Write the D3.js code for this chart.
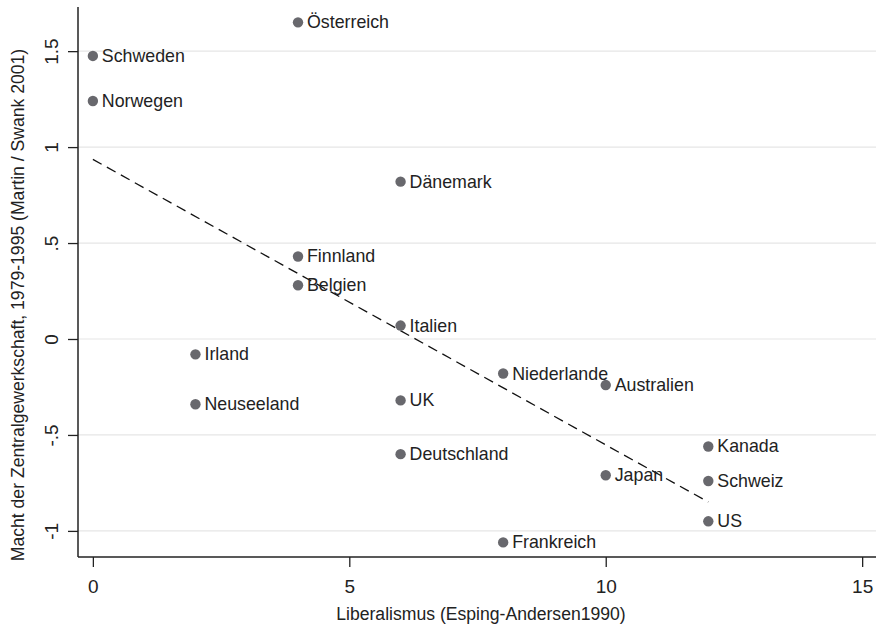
<!DOCTYPE html>
<html><head><meta charset="utf-8">
<script src="https://cdn.jsdelivr.net/npm/d3@7"></script>
<style>body{margin:0;background:#fff}svg{display:block}text{font-family:"Liberation Sans",Arial,sans-serif;fill:#222}</style>
</head><body><svg id="c" width="885" height="628"></svg>
<script>
const countries = ["Österreich","Schweden","Norwegen","Dänemark","Finnland","Belgien","Italien","Irland","Neuseeland","UK","Niederlande","Australien","Deutschland","Japan","Kanada","Schweiz","US","Frankreich"];
const liberalism = [4,0,0,6,4,4,6,2,2,6,8,10,6,10,12,12,12,8];
const unionPower = [1.65,1.475,1.24,0.82,0.43,0.28,0.07,-0.08,-0.34,-0.32,-0.18,-0.24,-0.60,-0.71,-0.56,-0.74,-0.95,-1.06];
const xTicks = [0,5,10,15];
const yTicks = [1.5,1,0.5,0,-0.5,-1];
const yTickLabels = ["1.5","1",".5","0","-.5","-1"];
const xTitle = "Liberalismus (Esping-Andersen1990)";
const yTitle = "Macht der Zentralgewerkschaft, 1979-1995 (Martin / Swank 2001)";

const svg = d3.select("#c");
const L=78, R=876, T=7, B=557;
const x = d3.scaleLinear().domain([-0.29,15.27]).range([L,R]);
const y = d3.scaleLinear().domain([-1.136,1.73]).range([B,T]);

// grid
svg.append("g").selectAll("line").data(yTicks).join("line")
  .attr("x1",L).attr("x2",R).attr("y1",d=>y(d)).attr("y2",d=>y(d))
  .attr("stroke","#e6e6e6").attr("stroke-width",1.2);

// axes
const yAxis = d3.axisLeft(y).tickValues(yTicks).tickFormat((d,i)=>yTickLabels[i]).tickSize(10).tickSizeOuter(0);
const gy = svg.append("g").attr("transform",`translate(${L},0)`).call(yAxis);
gy.select(".domain").attr("stroke","#222").attr("stroke-width",1.5).attr("d",`M0,${T}V${B}`);
gy.selectAll(".tick line").attr("stroke","#222").attr("stroke-width",1.3);
gy.selectAll(".tick text").attr("font-size",19).attr("fill","#222")
  .attr("x",null).attr("dy",null).attr("text-anchor","middle")
  .attr("transform",`translate(-20,0) rotate(-90)`);

const xAxis = d3.axisBottom(x).tickValues(xTicks).tickFormat(d3.format("d")).tickSize(10).tickPadding(0).tickSizeOuter(0);
const gx = svg.append("g").attr("transform",`translate(0,${B})`).call(xAxis);
gx.select(".domain").attr("stroke","#222").attr("stroke-width",1.5).attr("d",`M${L},0H${R}`);
gx.selectAll(".tick line").attr("stroke","#222").attr("stroke-width",1.3);
gx.selectAll(".tick text").attr("font-size",19).attr("fill","#222").attr("dy",null).attr("y",36);

// titles
svg.append("text").attr("x",(L+R)/2+4).attr("y",620).attr("text-anchor","middle").attr("font-size",17.6).text(xTitle);
svg.append("text").attr("transform",`translate(24,305) rotate(-90)`).attr("text-anchor","middle").attr("font-size",17.6).text(yTitle);

// regression line
const n = liberalism.length;
const mx = d3.mean(liberalism), my = d3.mean(unionPower);
let sxy=0,sxx=0;
for(let i=0;i<n;i++){sxy+=(liberalism[i]-mx)*(unionPower[i]-my);sxx+=(liberalism[i]-mx)**2;}
const slope=sxy/sxx, icpt=my-slope*mx;
const xr = d3.extent(liberalism);
svg.append("line").attr("x1",x(xr[0])).attr("x2",x(xr[1]))
  .attr("y1",y(icpt+slope*xr[0])).attr("y2",y(icpt+slope*xr[1]))
  .attr("stroke","#111").attr("stroke-width",1.3).attr("stroke-dasharray","10,6");

// points
const data = countries.map((c,i)=>({c,x:liberalism[i],y:unionPower[i]}));
svg.append("g").selectAll("circle").data(data).join("circle")
  .attr("cx",d=>x(d.x)).attr("cy",d=>y(d.y)).attr("r",5.2).attr("fill","#68686d");
svg.append("g").selectAll("text").data(data).join("text")
  .attr("x",d=>x(d.x)+9).attr("y",d=>y(d.y)+6).attr("font-size",17.8).text(d=>d.c);
</script></body></html>
